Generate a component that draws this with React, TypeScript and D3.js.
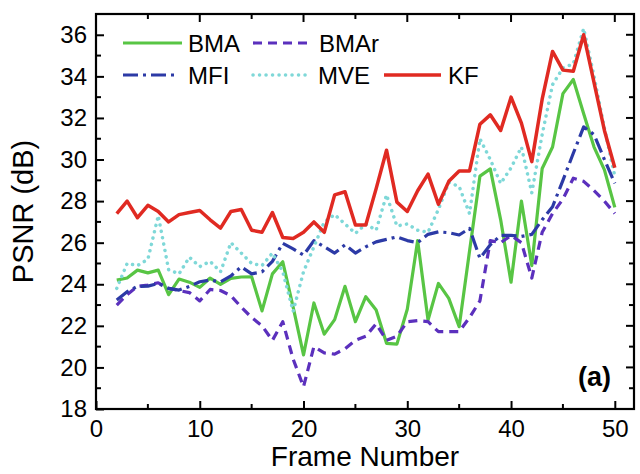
import React, { useRef, useEffect } from 'react';
import * as d3 from 'd3';

// constants
const width = 640;
const height = 474;
const plot = { left: 96, right: 634, top: 14, bottom: 409 };
const font = '"Liberation Sans", Arial, sans-serif';

// data
const frames = [2, 3, 4, 5, 6, 7, 8, 9, 10, 11, 12, 13, 14, 15, 16, 17, 18, 19, 20, 21, 22, 23, 24, 25, 26,
  27, 28, 29, 30, 31, 32, 33, 34, 35, 36, 37, 38, 39, 40, 41, 42, 43, 44, 45, 46, 47, 48, 49, 50];

const bma = [24.2, 24.3, 24.68, 24.55, 24.68, 23.5, 24.25, 24.1, 23.85, 24.3, 24.0, 24.28, 24.35, 24.36, 22.72,
  24.5, 25.08, 22.9, 20.6, 23.1, 21.6, 22.3, 23.9, 22.2, 23.4, 22.76, 21.16, 21.12, 22.8, 26.1, 22.28, 24.04,
  23.32, 21.96, 25.6, 29.2, 29.55, 27.1, 24.1, 28.0, 24.9, 29.57, 30.6, 33.17, 33.85, 32.2, 30.6, 29.5, 27.7];

const bmar = [23.0, 23.5, 23.9, 23.96, 24.07, 23.8, 23.7, 23.6, 23.2, 23.75, 23.7, 23.45, 22.9, 22.4, 22.0,
  21.3, 22.2, 20.4, 19.07, 21.0, 20.7, 20.64, 20.9, 21.3, 21.5, 22.1, 21.3, 21.5, 22.2, 22.25, 22.2, 21.72,
  21.72, 21.72, 22.4, 23.2, 26.1, 26.0, 26.35, 26.0, 24.3, 26.5, 27.4, 28.1, 29.1, 28.95, 28.5, 28.0, 27.4];

const mfi = [23.24, 23.64, 23.9, 23.91, 24.04, 23.8, 23.72, 23.9, 24.12, 24.2, 24.12, 24.4, 24.84, 24.5, 24.6,
  25.1, 25.97, 25.7, 25.4, 26.1, 25.8, 25.5, 25.9, 25.5, 25.8, 26.04, 26.16, 26.28, 26.1, 26.0, 26.4, 26.52,
  26.48, 26.37, 26.69, 25.25, 25.9, 26.35, 26.35, 26.3, 26.4, 27.1, 27.73, 29.0, 30.3, 31.57, 31.2, 30.0, 28.85];

const mve = [23.8, 25.0, 24.9, 25.2, 27.3, 24.7, 24.5, 25.3, 24.85, 25.1, 24.6, 26.0, 25.5, 25.0, 24.9,
  25.5, 24.6, 22.7, 24.6, 25.8, 27.0, 27.35, 26.9, 26.45, 26.9, 26.6, 28.3, 26.8, 26.9, 26.6, 26.5, 27.6,
  28.9, 28.7, 27.4, 31.0, 30.0, 28.85, 29.6, 30.6, 28.4, 31.2, 33.6, 34.4, 34.6, 36.3, 34.0, 31.5, 29.2];

const kf = [27.4, 28.0, 27.2, 27.8, 27.5, 27.0, 27.35, 27.45, 27.55, 27.1, 26.7, 27.5, 27.6, 26.6, 26.5,
  27.45, 26.25, 26.2, 26.5, 27.0, 26.5, 28.3, 28.45, 26.85, 26.85, 28.6, 30.45, 27.95, 27.5, 28.5, 29.3, 27.85,
  28.95, 29.45, 29.45, 31.7, 32.15, 31.4, 33.0, 31.75, 29.9, 32.9, 35.2, 34.3, 34.25, 36.0, 33.7, 31.4, 29.6];

const xMajor = [0, 10, 20, 30, 40, 50];
const xMinor = [5, 15, 25, 35, 45];
const yMajor = [18, 20, 22, 24, 26, 28, 30, 32, 34, 36];
const yMinor = [19, 21, 23, 25, 27, 29, 31, 33, 35];

// series styles
const series = [
  { name: 'BMA', values: bma, color: '#58c544', dash: null, cap: 'butt', w: 3.2 },
  { name: 'BMAr', values: bmar, color: '#5b30bd', dash: '9,6', cap: 'butt', w: 3.2 },
  { name: 'MFI', values: mfi, color: '#2c3aa6', dash: '15,5,3,5', cap: 'butt', w: 3.2 },
  { name: 'MVE', values: mve, color: '#7fd8d8', dash: '0.1,6.4', cap: 'round', w: 3.5 },
  { name: 'KF', values: kf, color: '#e02a22', dash: null, cap: 'butt', w: 3.5 },
];

// legend layout
const legendPos = [
  { x1: 123, x2: 182, tx: 188, y: 43 },
  { x1: 253, x2: 312, tx: 319, y: 43 },
  { x1: 123, x2: 178, tx: 188, y: 75 },
  { x1: 253, x2: 310, tx: 318, y: 75 },
  { x1: 384, x2: 441, tx: 448, y: 75 },
];

const App = () => {
  const xScale = d3.scaleLinear().domain([0, 51.85]).range([plot.left, plot.right]);
  const yScale = d3.scaleLinear().domain([18, 37]).range([plot.bottom, plot.top]);

  const xAxisRef = useRef<SVGGElement>(null);
  const yAxisRef = useRef<SVGGElement>(null);
  const minorRef = useRef<SVGGElement>(null);

  useEffect(() => {
    // labelled axes, ticks pointing inward
    d3.select(xAxisRef.current)
      .attr('transform', `translate(0,${plot.bottom})`)
      .call(d3.axisBottom(xScale).tickValues(xMajor).tickSize(-8).tickPadding(11).tickFormat(d3.format('d')))
      .call(g => g.select('.domain').remove());
    d3.select(yAxisRef.current)
      .attr('transform', `translate(${plot.left},0)`)
      .call(d3.axisLeft(yScale).tickValues(yMajor).tickSize(-8).tickPadding(9).tickFormat(d3.format('d')))
      .call(g => g.select('.domain').remove());
    [xAxisRef, yAxisRef].forEach(r => {
      d3.select(r.current).selectAll('text')
        .style('font-family', font).style('font-size', '24px').attr('fill', '#000');
      d3.select(r.current).selectAll('line').attr('stroke', '#000').attr('stroke-width', 2);
    });

    // mirrored + minor ticks
    const g = d3.select(minorRef.current);
    g.selectAll('*').remove();
    const tick = (x1: number, y1: number, x2: number, y2: number) =>
      g.append('line').attr('x1', x1).attr('y1', y1).attr('x2', x2).attr('y2', y2)
        .attr('stroke', '#000').attr('stroke-width', 2);
    xMinor.forEach(v => tick(xScale(v), plot.bottom, xScale(v), plot.bottom - 5));
    xMajor.forEach(v => tick(xScale(v), plot.top, xScale(v), plot.top + 8));
    xMinor.forEach(v => tick(xScale(v), plot.top, xScale(v), plot.top + 5));
    yMinor.forEach(v => tick(plot.left, yScale(v), plot.left + 5, yScale(v)));
    yMajor.forEach(v => tick(plot.right, yScale(v), plot.right - 8, yScale(v)));
    yMinor.forEach(v => tick(plot.right, yScale(v), plot.right - 5, yScale(v)));
  }, []);

  const line = (vals: number[]) =>
    d3.line<number>().x((d, i) => xScale(frames[i])).y(d => yScale(d))(vals) || '';

  return (
    <svg width={width} height={height} style={{ position: 'absolute', left: 0, top: 0, background: '#fff' }}>
      <rect x={0} y={0} width={width} height={height} fill="#fff" />
      {series.map(s => (
        <path key={s.name} d={line(s.values)} fill="none" stroke={s.color} strokeWidth={s.w}
          strokeDasharray={s.dash || undefined} strokeLinecap={s.cap as any} strokeLinejoin="round" />
      ))}
      <rect x={plot.left} y={plot.top} width={plot.right - plot.left} height={plot.bottom - plot.top}
        fill="none" stroke="#000" strokeWidth={2.2} />
      <g ref={xAxisRef}></g>
      <g ref={yAxisRef}></g>
      <g ref={minorRef}></g>
      {series.map((s, i) => {
        const p = legendPos[i];
        return (
          <g key={'lg' + s.name}>
            <line x1={p.x1} x2={p.x2} y1={p.y} y2={p.y} stroke={s.color} strokeWidth={s.w}
              strokeDasharray={s.dash || undefined} strokeLinecap={s.cap as any} />
            <text x={p.tx} y={p.y + 8.5} fontFamily={font} fontSize={24} fill="#000">{s.name}</text>
          </g>
        );
      })}
      <text x={611} y={386} textAnchor="end" fontFamily={font} fontSize={27} fontWeight="bold">(a)</text>
      <text x={(plot.left + plot.right) / 2} y={466} textAnchor="middle" fontFamily={font} fontSize={28}>Frame Number</text>
      <text transform={`translate(33,${(plot.top + plot.bottom) / 2}) rotate(-90)`} textAnchor="middle"
        fontFamily={font} fontSize={29}>PSNR (dB)</text>
    </svg>
  );
};

export default App;
